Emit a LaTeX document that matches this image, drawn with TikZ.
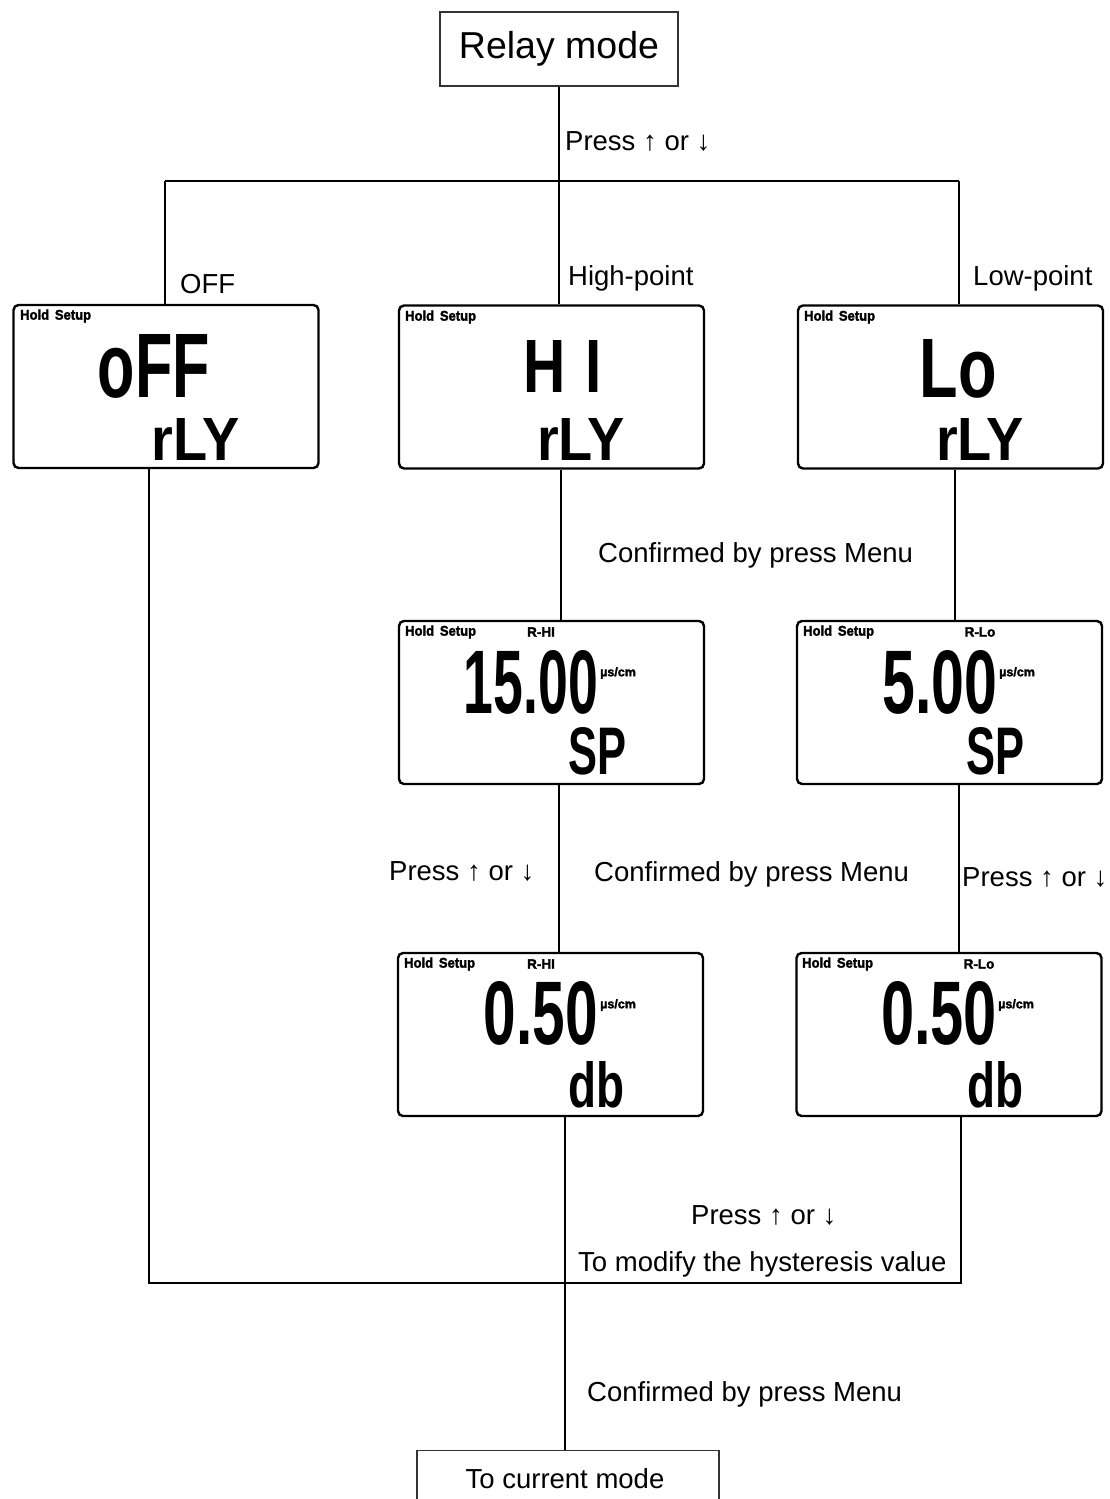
\documentclass[tikz,border=0pt]{standalone}
\usepackage{fontspec}
\setmainfont{Liberation Sans}
\newfontfamily\heavyfont[FakeBold=2.2]{Liberation Sans}
\begin{document}
\begin{tikzpicture}[x=1pt,y=-1pt,
  lcd/.style={draw, line width=2.4pt, rounded corners=5pt, minimum width=305pt, minimum height=163pt, inner sep=0pt},
  plainbox/.style={draw, draw=black!80, line width=1.1pt, inner sep=0pt},
  conn/.style={line width=1.6pt},
  lbl/.style={font=\fontsize{27.5}{31}\selectfont, inner sep=0pt, anchor=west},
  hs/.style={font=\heavyfont\bfseries\fontsize{14}{16}\selectfont, inner sep=0pt, anchor=west},
  tag/.style={font=\heavyfont\bfseries\fontsize{13.5}{15}\selectfont, inner sep=0pt},
  unitlbl/.style={font=\heavyfont\bfseries\fontsize{12.5}{14}\selectfont, inner sep=0pt, anchor=west},
  seg/.style={inner sep=0pt}]
\newcommand\lcdtxt[3]{\resizebox{#1pt}{#2pt}{\bfseries #3}}
\newcommand\hstxt{\scalebox{0.93}[1]{Hold\, Setup}}
\useasboundingbox (0,0) rectangle (1110,1499);
\fill[white] (0,0) rectangle (1110,1499);

% boxes
\node[plainbox, minimum width=238pt, minimum height=74pt, font=\fontsize{37.5}{42}\selectfont] (relay) at (559,49) {Relay mode};
\node[plainbox, minimum width=302pt, minimum height=64pt, anchor=north] (cur) at (568,1450) {};
\node[inner sep=0pt, font=\fontsize{27.5}{31}\selectfont] (curtxt) at (565,1479) {To current mode};

\node[lcd] (off) at (166,386.5) {};
\node[lcd] (hi) at (551.5,387) {};
\node[lcd] (lo) at (950.5,387) {};
\node[lcd] (hisp) at (551.5,702.5) {};
\node[lcd] (losp) at (949.5,702.5) {};
\node[lcd] (hidb) at (550.5,1034.5) {};
\node[lcd] (lodb) at (949,1034.5) {};

% LCD contents
\node[hs] (offhs) at (20,316) {\hstxt};
\node[seg] (offa) at (154,366) {\lcdtxt{112}{63}{oFF}};
\node[seg] (offb) at (196,439) {\lcdtxt{88}{42}{rLY}};

\node[hs] (hihs) at (405,317) {\hstxt};
\node[seg] (hia) at (563,366) {\lcdtxt{78}{52}{H\,\,I}};
\node[seg] (hib) at (581,439) {\lcdtxt{88}{42}{rLY}};

\node[hs] (lohs) at (804,317) {\hstxt};
\node[seg] (loa) at (958,369) {\lcdtxt{77}{58}{Lo}};
\node[seg] (lob) at (980,439) {\lcdtxt{88}{42}{rLY}};

\node[hs] (hisphs) at (405,632) {\hstxt};
\node[tag] (hisptag) at (541,632) {R-HI};
\node[seg] (hispa) at (531,682) {\lcdtxt{134}{63}{15.00}};
\node[unitlbl] (hispu) at (600,673) {µs/cm};
\node[seg] (hispb) at (597,751) {\lcdtxt{58}{47}{SP}};

\node[hs] (losphs) at (803,632) {\hstxt};
\node[tag] (losptag) at (980,632) {R-Lo};
\node[seg] (lospa) at (940,682) {\lcdtxt{115}{63}{5.00}};
\node[unitlbl] (lospu) at (999,673) {µs/cm};
\node[seg] (lospb) at (995,751) {\lcdtxt{58}{47}{SP}};

\node[hs] (hidbhs) at (404,964) {\hstxt};
\node[tag] (hidbtag) at (541,964) {R-HI};
\node[seg] (hidba) at (541,1013) {\lcdtxt{114}{63}{0.50}};
\node[unitlbl] (hidbu) at (600,1005) {µs/cm};
\node[seg] (hidbb) at (596,1085) {\lcdtxt{56}{46}{db}};

\node[hs] (lodbhs) at (802,964) {\hstxt};
\node[tag] (lodbtag) at (979,964) {R-Lo};
\node[seg] (lodba) at (939,1013) {\lcdtxt{116}{63}{0.50}};
\node[unitlbl] (lodbu) at (998,1005) {µs/cm};
\node[seg] (lodbb) at (995,1085) {\lcdtxt{56}{46}{db}};

% junction coordinates
\coordinate (jt) at (559,181);
\coordinate (jl) at (165,181);
\coordinate (jr) at (959,181);
\coordinate (xa) at (561,0);
\coordinate (xb) at (559,0);
\coordinate (xc) at (955,0);
\coordinate (xd) at (959,0);
\coordinate (bl) at (149,1283);
\coordinate (bm) at (565,1283);
\coordinate (br) at (961,1283);

% connectors
\draw[conn] (relay.south -| jt) -- (jt);
\draw[conn] (jl) -- (jr);
\draw[conn] (jl) -- (jl |- off.north);
\draw[conn] (jt) -- (jt |- hi.north);
\draw[conn] (jr) -- (jr |- lo.north);
\draw[conn] (xa |- hi.south) -- (xa |- hisp.north);
\draw[conn] (xc |- lo.south) -- (xc |- losp.north);
\draw[conn] (xb |- hisp.south) -- (xb |- hidb.north);
\draw[conn] (xd |- losp.south) -- (xd |- lodb.north);
\draw[conn] (bl |- off.south) -- (bl) -- (br) -- (br |- lodb.south);
\draw[conn] (bm |- hidb.south) -- (bm |- cur.north);

% labels
\node[lbl] (l1) at (565,141) {Press ↑ or ↓};
\node[lbl] (l2) at (180,284) {OFF};
\node[lbl] (l3) at (568,278) {High-point};
\node[lbl] (l4) at (973,278) {Low-point};
\node[lbl] (l5) at (598,555) {Confirmed by press Menu};
\node[lbl] (l6) at (389,871) {Press ↑ or ↓};
\node[lbl] (l7) at (594,874) {Confirmed by press Menu};
\node[lbl] (l8) at (962,877) {Press ↑ or ↓};
\node[lbl] (l9) at (691,1215) {Press ↑ or ↓};
\node[lbl] (l10) at (578,1264) {To modify the hysteresis value};
\node[lbl] (l11) at (587,1394) {Confirmed by press Menu};
\end{tikzpicture}
\end{document}
